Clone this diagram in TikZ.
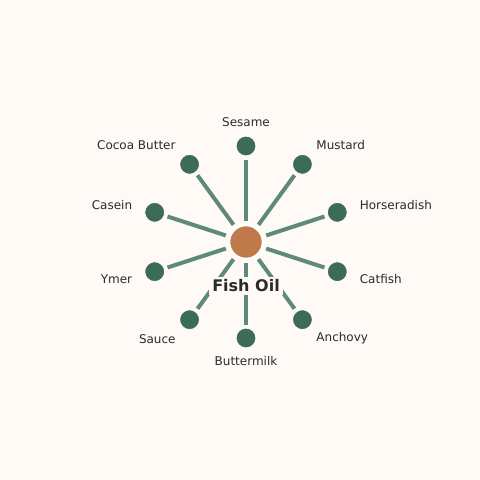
\documentclass[tikz,border=0pt]{standalone}
\usepackage{fontspec}
\setmainfont{DejaVu Sans}
\usetikzlibrary{calc}
\definecolor{bgc}{HTML}{FFFAF6}
\definecolor{linec}{HTML}{5E8A78}
\definecolor{leafc}{HTML}{3D6B5A}
\definecolor{hubc}{HTML}{C07A4A}
\definecolor{txtc}{HTML}{2B2B2B}
\begin{document}
\begin{tikzpicture}[x=1pt,y=-1pt,
  leaf/.style={circle,fill=leafc,draw=bgc,line width=1pt,minimum size=20pt,inner sep=0pt},
  hub/.style={circle,fill=hubc,draw=white,line width=2.5pt,minimum size=34pt,inner sep=0pt},
  spoke/.style={linec,line width=4pt,shorten <=3pt,shorten >=3pt},
  lbl/.style={font=\fontsize{12}{14}\selectfont,text=txtc,inner sep=0pt},
  hublbl/.style={font=\fontsize{16}{19}\selectfont\bfseries,text=txtc,fill=bgc,inner xsep=3pt,inner ysep=3pt}]
\fill[bgc] (0,0) rectangle (480,480);
\useasboundingbox (0,0) rectangle (480,480);
\coordinate (c) at (246,242);
\node[hub] (hub) at (c) {};
\foreach \n/\a/\t/\anc in {
  s/90/Sesame/center, m/54/Mustard/west, h/18/Horseradish/west, ca/-18/Catfish/west,
  an/-54/Anchovy/west, b/-90/Buttermilk/center, sa/-126/Sauce/east, y/-162/Ymer/east,
  ce/162/Casein/east, co/126/Cocoa Butter/east}{
  \node[leaf] (\n) at ($(c)+({96*cos(\a)},{-96*sin(\a)})$) {};
  \node[lbl,anchor=\anc] (\n-l) at ($(c)+({119.5*cos(\a)},{-119.5*sin(\a)})$) {\t};
  \draw[spoke] (hub) -- (\n);
}
\node[hublbl] (fl) at (246,286) {Fish Oil};
\end{tikzpicture}
\end{document}
